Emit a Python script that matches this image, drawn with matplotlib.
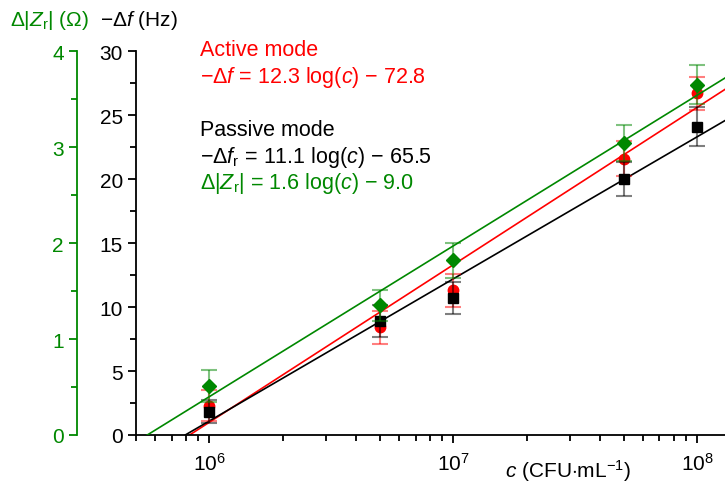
import numpy as np
import matplotlib
matplotlib.use("Agg")
import matplotlib.pyplot as plt
from matplotlib.ticker import MultipleLocator, LogLocator, NullFormatter

plt.rcParams['font.family'] = ['Liberation Sans', 'DejaVu Sans']
plt.rcParams['mathtext.fontset'] = 'custom'
plt.rcParams['mathtext.rm'] = 'Liberation Sans'
plt.rcParams['mathtext.it'] = 'Liberation Sans:italic'
plt.rcParams['mathtext.bf'] = 'Liberation Sans:bold'

# ---- data ----
conc = [1e6, 5e6, 1e7, 5e7, 1e8]
active = [2.3, 8.4, 11.3, 21.6, 26.7]
active_err = [1.2, 1.3, 1.3, 1.35, 1.3]
passive = [1.8, 8.9, 10.7, 20.0, 24.1]
passive_err = [0.9, 1.27, 1.27, 1.35, 1.55]
dz = [0.51, 1.35, 1.82, 3.04, 3.65]
dz_err = [0.17, 0.16, 0.18, 0.19, 0.20]

fit_active = [12.3, -72.8]
fit_passive = [11.1, -65.5]
fit_dz = [1.57, -9.02]

GREEN = '#008800'
RED = '#ff0000'
FS = 15
FS_ANN = 15.5

fig = plt.figure(figsize=(7.25, 4.89), dpi=100)
L, R, B, T = 136, 725, 436, 52
W, H = 725, 489
ax = fig.add_axes([L / W, (H - B) / H, (R - L) / W, (B - T) / H])
ax2 = ax.twinx()

xlim = (5e5, 1.3e8)
xs = np.logspace(np.log10(xlim[0]), np.log10(xlim[1]), 200)

ax.plot(xs, fit_active[0] * np.log10(xs) + fit_active[1], color=RED, lw=1.2, zorder=2)
ax.plot(xs, fit_passive[0] * np.log10(xs) + fit_passive[1], color='black', lw=1.2, zorder=2)
ax2.plot(xs, fit_dz[0] * np.log10(xs) + fit_dz[1], color=GREEN, lw=1.2, zorder=2)

ax.errorbar(conc, active, yerr=active_err, fmt='o', color=RED, ms=7.5,
            ecolor=(1, 0, 0, 0.5), elinewidth=1.5, capsize=6, capthick=1.5, zorder=3)
ax.errorbar(conc, passive, yerr=passive_err, fmt='s', color='black', ms=7,
            ecolor=(0, 0, 0, 0.5), elinewidth=1.5, capsize=6, capthick=1.5, zorder=4)
ax2.errorbar(conc, dz, yerr=dz_err, fmt='D', color=GREEN, ms=7.5,
             ecolor=(0, 0.53, 0, 0.5), elinewidth=1.5, capsize=6, capthick=1.5, zorder=5)

ax.set_xscale('log')
ax.set_xlim(*xlim)
ax.set_ylim(0, 30)
ax2.set_ylim(0, 4)

for s in ['top', 'right']:
    ax.spines[s].set_visible(False)
    ax2.spines[s].set_visible(False)
ax2.spines['bottom'].set_visible(False)
ax2.spines['left'].set_visible(True)
ax2.spines['left'].set_position(('outward', 59 * 72 / 100))
ax2.spines['left'].set_color(GREEN)
ax2.spines['left'].set_linewidth(1.3)
ax2.yaxis.set_ticks_position('left')
ax2.yaxis.set_label_position('left')
ax.spines['left'].set_linewidth(1.3)
ax.spines['bottom'].set_linewidth(1.3)

ax.yaxis.set_major_locator(MultipleLocator(5))
ax.yaxis.set_minor_locator(MultipleLocator(2.5))
ax2.yaxis.set_major_locator(MultipleLocator(1))
ax2.yaxis.set_minor_locator(MultipleLocator(0.5))
ax.xaxis.set_major_locator(LogLocator(base=10, numticks=10))
ax.xaxis.set_minor_locator(LogLocator(base=10, subs=np.arange(2, 10), numticks=20))
ax.xaxis.set_minor_formatter(NullFormatter())

ax.tick_params(axis='both', which='major', length=6, width=1.3, labelsize=FS, direction='out')
ax.tick_params(axis='both', which='minor', length=4, width=1.3, direction='out')
ax.tick_params(axis='x', which='major', pad=6)
ax2.tick_params(axis='y', which='major', length=6, width=1.3, labelsize=FS,
                colors=GREEN, direction='out')
ax2.tick_params(axis='y', which='minor', length=4, width=1.3, colors=GREEN, direction='out')

ax.set_xlabel(r'$c$ (CFU$\cdot$mL$^{-1}$)', fontsize=FS)
ax.xaxis.set_label_coords((568 - L) / (R - L), -0.09)
ax.xaxis.label.set_va('center')

fig.text(10 / W, 1 - 21 / H, r'$\Delta$|$Z_\mathrm{r}$| ($\Omega$)', color=GREEN,
         fontsize=FS, va='center', ha='left')
fig.text(100 / W, 1 - 21 / H, r'$-\Delta f$ (Hz)', color='black',
         fontsize=FS, va='center', ha='left')

tx = 200 / W
fig.text(tx, 1 - 51 / H, 'Active mode', color=RED, fontsize=FS_ANN, va='center')
fig.text(tx, 1 - 77 / H, r'$-\Delta f$ = 12.3 log($c$) $-$ 72.8', color=RED,
         fontsize=FS_ANN, va='center')
fig.text(tx, 1 - 131 / H, 'Passive mode', color='black', fontsize=FS_ANN, va='center')
fig.text(tx, 1 - 158 / H, r'$-\Delta f_\mathrm{r}$ = 11.1 log($c$) $-$ 65.5', color='black',
         fontsize=FS_ANN, va='center')
fig.text(tx, 1 - 184 / H, r'$\Delta$|$Z_\mathrm{r}$| = 1.6 log($c$) $-$ 9.0', color=GREEN,
         fontsize=FS_ANN, va='center')

fig.savefig('out.png', dpi=100)
